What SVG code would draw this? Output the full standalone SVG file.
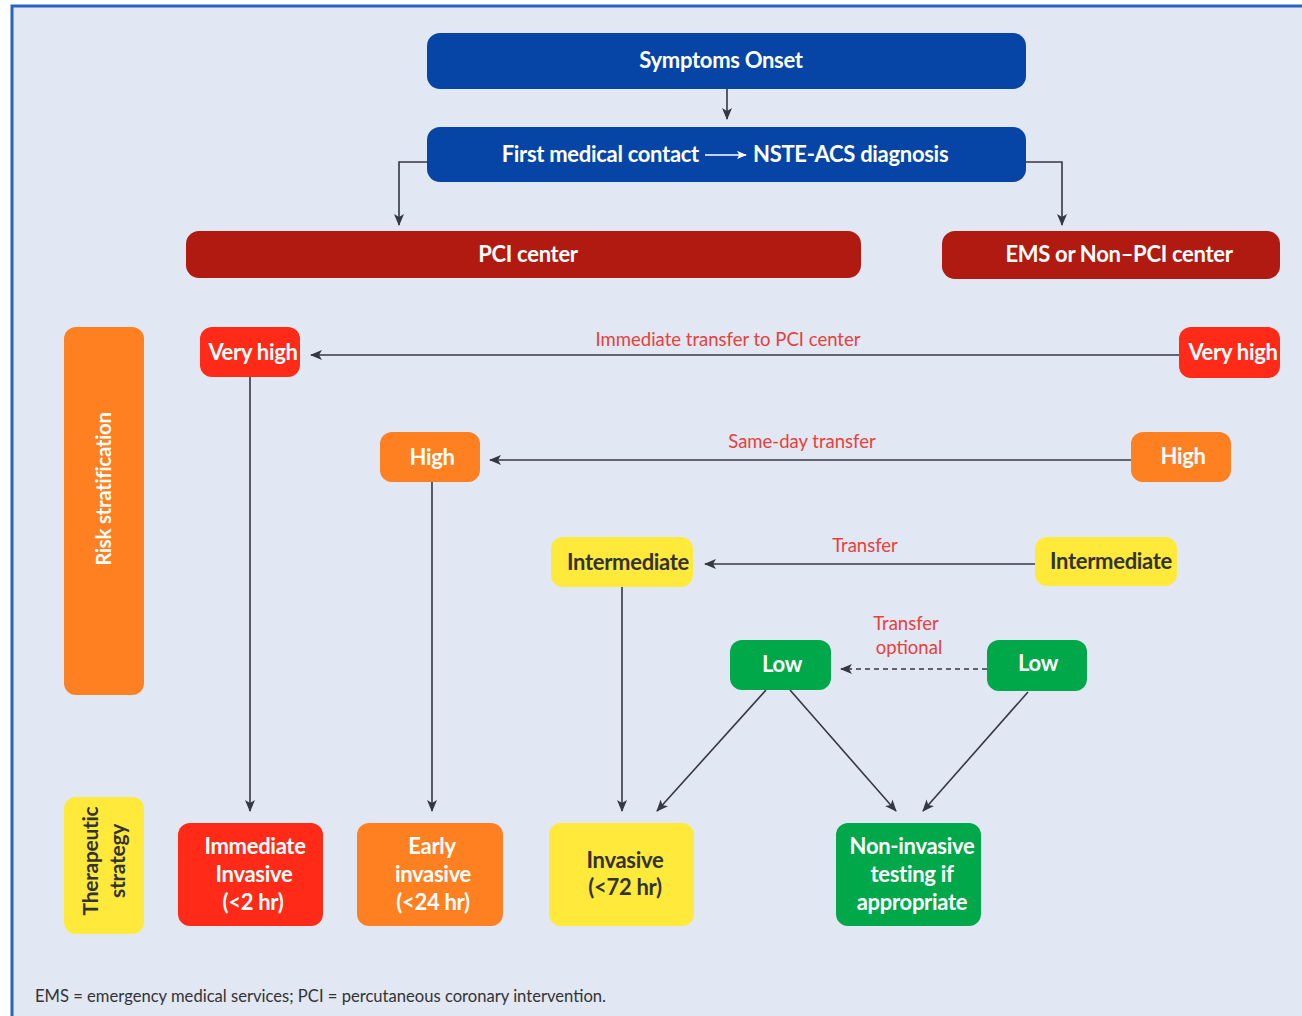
<svg xmlns="http://www.w3.org/2000/svg" width="1302" height="1016" viewBox="0 0 1302 1016">
<defs>
<marker id="ah" viewBox="0 0 12 10" markerWidth="12" markerHeight="10" refX="11" refY="5" orient="auto" markerUnits="userSpaceOnUse">
<path d="M0,0 L12,5 L0,10 L3,5 z" fill="#343842"/>
</marker>
<marker id="ahw" viewBox="0 0 12 10" markerWidth="10" markerHeight="9" refX="11" refY="5" orient="auto" markerUnits="userSpaceOnUse">
<path d="M0,0 L12,5 L0,10 L3,5 z" fill="#ffffff"/>
</marker>
<style>
.t{font-family:Lato,"Open Sans","Liberation Sans",sans-serif;font-weight:bold;font-size:22px;text-anchor:middle;letter-spacing:-0.3px}
.w{fill:#ffffff}
.d{fill:#333333}
.lbl{font-family:Lato,"Open Sans","Liberation Sans",sans-serif;font-size:18.5px;fill:#e8403a;text-anchor:middle}
.c{fill:none;stroke:#343842;stroke-width:1.6}
.blue{fill:#0645a5}
.dred{fill:#b01a10}
.red{fill:#ff2a17}
.orange{fill:#ff8020}
.yellow{fill:#ffe93a}
.green{fill:#00a84a}
</style>
</defs>
<rect x="0" y="0" width="1302" height="1016" fill="#ffffff"/>
<rect x="12" y="6" width="1310" height="1030" fill="#e1e7f3" stroke="#2a62c0" stroke-width="3"/>

<g id="connectors">
<line class="c" x1="727" y1="89" x2="727" y2="119" marker-end="url(#ah)"/>
<polyline class="c" points="427,162 399,162 399,225" marker-end="url(#ah)"/>
<polyline class="c" points="1026,162 1062,162 1062,225" marker-end="url(#ah)"/>
<line class="c" x1="1179" y1="355" x2="311" y2="355" marker-end="url(#ah)"/>
<line class="c" x1="1131" y1="460" x2="490" y2="460" marker-end="url(#ah)"/>
<line class="c" x1="1035" y1="564" x2="705" y2="564" marker-end="url(#ah)"/>
<line class="c" x1="987" y1="669" x2="841" y2="669" stroke-dasharray="5,4" marker-end="url(#ah)"/>
<line class="c" x1="250" y1="377" x2="250" y2="811" marker-end="url(#ah)"/>
<line class="c" x1="432" y1="482" x2="432" y2="811" marker-end="url(#ah)"/>
<line class="c" x1="622" y1="587" x2="622" y2="811" marker-end="url(#ah)"/>
<line class="c" x1="766" y1="690" x2="657" y2="811" marker-end="url(#ah)"/>
<line class="c" x1="790" y1="690" x2="896" y2="811" marker-end="url(#ah)"/>
<line class="c" x1="1028" y1="692" x2="923" y2="811" marker-end="url(#ah)"/>
<text class="lbl" x="728" y="346">Immediate transfer to PCI center</text>
<text class="lbl" x="802" y="448">Same-day transfer</text>
<text class="lbl" x="865" y="552">Transfer</text>
<text class="lbl" x="906" y="630">Transfer</text>
<text class="lbl" x="909" y="654">optional</text>
</g>

<g id="symptoms-onset">
<rect class="blue" x="427" y="33" width="599" height="56" rx="13"/>
<text class="t w" x="721" y="68">Symptoms Onset</text>
</g>
<g id="first-medical-contact">
<rect class="blue" x="427" y="127" width="599" height="55" rx="13"/>
<text class="t w" x="699" y="162" style="text-anchor:end">First medical contact</text>
<line x1="705" y1="155" x2="746" y2="155" stroke="#ffffff" stroke-width="1.6" marker-end="url(#ahw)"/>
<text class="t w" x="753" y="162" style="text-anchor:start">NSTE-ACS diagnosis</text>
</g>
<g id="pci-center">
<rect class="dred" x="186" y="231" width="675" height="47" rx="13"/>
<text class="t w" x="528" y="262">PCI center</text>
</g>
<g id="ems-center">
<rect class="dred" x="942" y="231" width="338" height="48" rx="13"/>
<text class="t w" x="1119" y="262">EMS or Non–PCI center</text>
</g>

<g id="risk-stratification">
<rect class="orange" x="64" y="327" width="80" height="368" rx="12"/>
<text class="t w" style="font-size:20.5px" transform="translate(111,489) rotate(-90)">Risk stratification</text>
</g>
<g id="very-high-left">
<rect class="red" x="200" y="327" width="100" height="50" rx="12"/>
<text class="t w" x="253" y="360">Very high</text>
</g>
<g id="very-high-right">
<rect class="red" x="1179" y="327" width="101" height="51" rx="12"/>
<text class="t w" x="1233" y="360">Very high</text>
</g>
<g id="high-left">
<rect class="orange" x="380" y="432" width="100" height="50" rx="12"/>
<text class="t w" x="432" y="465">High</text>
</g>
<g id="high-right">
<rect class="orange" x="1131" y="432" width="100" height="50" rx="12"/>
<text class="t w" x="1183" y="464">High</text>
</g>
<g id="intermediate-left">
<rect class="yellow" x="551" y="537" width="142" height="50" rx="12"/>
<text class="t d" x="628" y="570">Intermediate</text>
</g>
<g id="intermediate-right">
<rect class="yellow" x="1035" y="537" width="142" height="49" rx="12"/>
<text class="t d" x="1111" y="569">Intermediate</text>
</g>
<g id="low-left">
<rect class="green" x="730" y="640" width="101" height="50" rx="12"/>
<text class="t w" x="782" y="672">Low</text>
</g>
<g id="low-right">
<rect class="green" x="987" y="640" width="100" height="51" rx="12"/>
<text class="t w" x="1038" y="671">Low</text>
</g>

<g id="therapeutic-strategy">
<rect class="yellow" x="64" y="797" width="80" height="137" rx="12"/>
<text class="t d" style="font-size:21px" transform="translate(98,861) rotate(-90)">Therapeutic</text>
<text class="t d" style="font-size:21px" transform="translate(125,861) rotate(-90)">strategy</text>
</g>
<g id="immediate-invasive">
<rect class="red" x="178" y="823" width="145" height="103" rx="12"/>
<text class="t w" x="255" y="854">Immediate</text>
<text class="t w" x="254" y="882">Invasive</text>
<text class="t w" x="253" y="910">(&lt;2 hr)</text>
</g>
<g id="early-invasive">
<rect class="orange" x="357" y="823" width="146" height="103" rx="12"/>
<text class="t w" x="432" y="854">Early</text>
<text class="t w" x="433" y="882">invasive</text>
<text class="t w" x="433" y="910">(&lt;24 hr)</text>
</g>
<g id="invasive-72">
<rect class="yellow" x="549" y="823" width="145" height="103" rx="12"/>
<text class="t d" x="625" y="868">Invasive</text>
<text class="t d" x="625" y="895">(&lt;72 hr)</text>
</g>
<g id="non-invasive">
<rect class="green" x="836" y="823" width="145" height="103" rx="12"/>
<text class="t w" x="912" y="854">Non-invasive</text>
<text class="t w" x="912" y="882">testing if</text>
<text class="t w" x="912" y="910">appropriate</text>
</g>

<text x="35" y="1002" font-family="Lato,'Open Sans','Liberation Sans',sans-serif" font-size="16.6" fill="#333333">EMS = emergency medical services; PCI = percutaneous coronary intervention.</text>
</svg>
